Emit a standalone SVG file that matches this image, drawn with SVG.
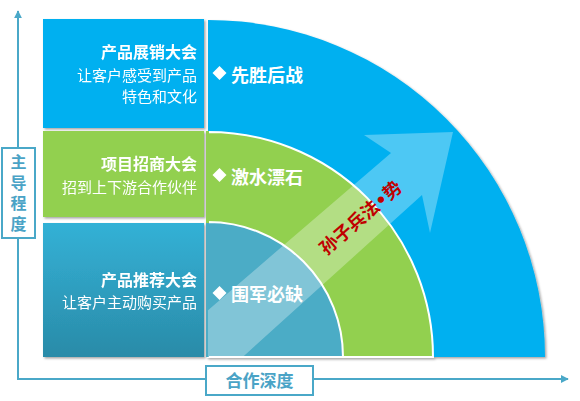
<svg xmlns="http://www.w3.org/2000/svg" width="580" height="401" viewBox="0 0 580 401">
<defs>
<style>
.cjk{font-family:"Noto Sans CJK SC","Noto Sans",sans-serif;}
.title{font-size:16px;font-weight:bold;fill:#fff;text-anchor:end;}
.sub{font-size:15px;fill:#fff;text-anchor:end;}
.lbl{font-size:18px;font-weight:bold;fill:#fff;}
.axis{stroke:#4aa8c8;stroke-width:2;fill:none;}
.axbox{fill:#fff;stroke:#4aa8c8;stroke-width:2;}
.axtxt{font-size:17px;font-weight:bold;fill:#4aa3c6;text-anchor:middle;}
.vtxt{font-size:16px;font-weight:bold;fill:#4aa3c6;text-anchor:middle;writing-mode:tb;letter-spacing:4.5px;}
</style>
<marker id="ah" viewBox="0 0 10 10" refX="9" refY="5" markerWidth="4" markerHeight="4" orient="auto">
<path d="M0,0 L10,5 L0,10 z" fill="#4aa8c8"/>
</marker>
<linearGradient id="g3" x1="0" y1="0" x2="0" y2="1">
<stop offset="0" stop-color="#33b1d6"/>
<stop offset="1" stop-color="#2a8ba8"/>
</linearGradient>
<filter id="sh" x="-5%" y="-5%" width="115%" height="115%">
<feDropShadow dx="1.5" dy="1.5" stdDeviation="1" flood-color="#000" flood-opacity="0.35"/>
</filter>
<clipPath id="qc"><rect x="208" y="0" width="372" height="357"/></clipPath>
</defs>

<g id="connectors">
<line class="axis" x1="18" y1="379" x2="18" y2="11" marker-end="url(#ah)"/>
<line class="axis" x1="17" y1="379" x2="568" y2="379" marker-end="url(#ah)"/>
</g>

<g id="axis-y">
<rect class="axbox" x="2" y="148" width="33" height="90"/>
<text class="cjk vtxt" x="18.5" y="195">主导程度</text>
</g>

<g id="axis-x">
<rect class="axbox" x="206" y="366" width="107" height="29"/>
<text class="cjk axtxt" x="259.5" y="387">合作深度</text>
</g>

<g id="box1" filter="url(#sh)">
<rect x="43" y="19" width="161" height="109" fill="#00b0f0"/>
<text class="cjk title" x="197" y="58">产品展销大会</text>
<text class="cjk sub" x="197" y="81">让客户感受到产品</text>
<text class="cjk sub" x="197" y="102">特色和文化</text>
</g>

<g id="box2" filter="url(#sh)">
<rect x="43" y="131" width="161" height="86" fill="#92d050"/>
<text class="cjk title" x="197" y="170">项目招商大会</text>
<text class="cjk sub" x="197" y="193">招到上下游合作伙伴</text>
</g>

<g id="box3" filter="url(#sh)">
<rect x="43" y="223" width="161" height="134" fill="url(#g3)"/>
<text class="cjk title" x="197" y="286">产品推荐大会</text>
<text class="cjk sub" x="197" y="308">让客户主动购买产品</text>
</g>

<g id="quarters" filter="url(#sh)">
<path d="M208,357 L208,20 A337,337 0 0 1 545,357 Z" fill="#00b0f0"/>
<path d="M208,357 L208,132 A225,225 0 0 1 433,357 Z" fill="#92d050" stroke="#fff" stroke-width="2"/>
<path d="M208,357 L208,222 A135,135 0 0 1 343,357 Z" fill="#4bacc6" stroke="#fff" stroke-width="2"/>
<rect x="206" y="131" width="3" height="226" fill="#92d050"/>
<rect x="206" y="223" width="3" height="134" fill="#4bacc6"/>
</g>

<g id="big-arrow" clip-path="url(#qc)">
<polygon points="200,317 391,153 364,135 453,132 430,233 422,195 235,364 200,364" fill="#fff" fill-opacity="0.3"/>
</g>

<g id="labels">
<polygon points="219.5,66 226.5,73 219.5,80 212.5,73" fill="#fff"/>
<text class="cjk lbl" x="231" y="82">先胜后战</text>
<polygon points="219.5,168 226.5,175 219.5,182 212.5,175" fill="#fff"/>
<text class="cjk lbl" x="231" y="184">激水漂石</text>
<polygon points="219.5,286 226.5,293 219.5,300 212.5,293" fill="#fff"/>
<text class="cjk lbl" x="231" y="301">围军必缺</text>
</g>

<g id="arrow-label">
<text class="cjk" x="361" y="224" font-size="18" font-weight="bold" fill="#c00000" text-anchor="middle" transform="rotate(-41 361 218)">孙子兵法<tspan font-family="'DejaVu Sans',sans-serif">•</tspan>势</text>
</g>
</svg>
